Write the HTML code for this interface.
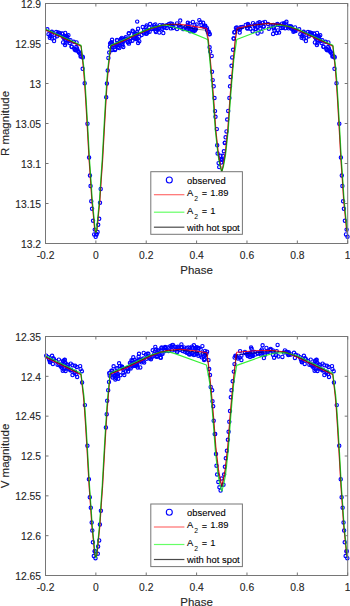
<!DOCTYPE html>
<html><head><meta charset="utf-8"><title>Light curves</title>
<style>html,body{margin:0;padding:0;background:#fff;width:350px;height:606px;overflow:hidden}
svg{display:block}text{font-family:"Liberation Sans",sans-serif}</style></head>
<body>
<svg width="350" height="606" viewBox="0 0 350 606" font-family="Liberation Sans, sans-serif">
<rect width="350" height="606" fill="#fff"/>
<clipPath id="c1"><rect x="45.5" y="3.5" width="302.2" height="240.0"/></clipPath>
<g fill="none" stroke="#0000ff" stroke-width="1.15">
<circle cx="137.20" cy="21.60" r="1.65"/>
<circle cx="142.70" cy="27.00" r="1.65"/>
<circle cx="138.10" cy="28.70" r="1.65"/>
<circle cx="133.00" cy="31.60" r="1.65"/>
<circle cx="129.00" cy="33.30" r="1.65"/>
<circle cx="135.90" cy="35.00" r="1.65"/>
<circle cx="139.30" cy="36.70" r="1.65"/>
<circle cx="141.60" cy="35.00" r="1.65"/>
<circle cx="143.90" cy="33.30" r="1.65"/>
<circle cx="125.60" cy="39.00" r="1.65"/>
<circle cx="121.00" cy="39.60" r="1.65"/>
<circle cx="117.00" cy="40.10" r="1.65"/>
<circle cx="111.90" cy="42.40" r="1.65"/>
<circle cx="110.10" cy="43.60" r="1.65"/>
<circle cx="112.40" cy="45.30" r="1.65"/>
<circle cx="116.40" cy="45.30" r="1.65"/>
<circle cx="122.10" cy="44.10" r="1.65"/>
<circle cx="127.90" cy="42.40" r="1.65"/>
<circle cx="132.40" cy="40.70" r="1.65"/>
<circle cx="135.90" cy="39.00" r="1.65"/>
<circle cx="138.10" cy="43.00" r="1.65"/>
<circle cx="139.30" cy="41.30" r="1.65"/>
<circle cx="115.30" cy="49.30" r="1.65"/>
<circle cx="111.90" cy="49.90" r="1.65"/>
<circle cx="123.30" cy="47.00" r="1.65"/>
<circle cx="119.30" cy="48.10" r="1.65"/>
<circle cx="130.10" cy="41.30" r="1.65"/>
<circle cx="134.10" cy="37.90" r="1.65"/>
<circle cx="112.00" cy="49.90" r="1.65"/>
<circle cx="115.00" cy="49.90" r="1.65"/>
<circle cx="114.10" cy="45.10" r="1.65"/>
<circle cx="117.10" cy="40.40" r="1.65"/>
<circle cx="118.00" cy="47.30" r="1.65"/>
<circle cx="121.00" cy="39.10" r="1.65"/>
<circle cx="122.30" cy="45.60" r="1.65"/>
<circle cx="124.90" cy="38.70" r="1.65"/>
<circle cx="128.30" cy="42.10" r="1.65"/>
<circle cx="128.70" cy="33.60" r="1.65"/>
<circle cx="111.10" cy="42.60" r="1.65"/>
<circle cx="150.10" cy="24.00" r="1.65"/>
<circle cx="154.10" cy="25.10" r="1.65"/>
<circle cx="146.10" cy="26.90" r="1.65"/>
<circle cx="147.30" cy="32.60" r="1.65"/>
<circle cx="146.10" cy="33.70" r="1.65"/>
<circle cx="156.40" cy="29.10" r="1.65"/>
<circle cx="158.70" cy="28.00" r="1.65"/>
<circle cx="159.90" cy="25.10" r="1.65"/>
<circle cx="155.90" cy="32.00" r="1.65"/>
<circle cx="159.30" cy="32.60" r="1.65"/>
<circle cx="163.30" cy="33.10" r="1.65"/>
<circle cx="162.10" cy="29.10" r="1.65"/>
<circle cx="166.70" cy="28.00" r="1.65"/>
<circle cx="169.00" cy="24.00" r="1.65"/>
<circle cx="170.70" cy="23.40" r="1.65"/>
<circle cx="173.00" cy="28.00" r="1.65"/>
<circle cx="177.00" cy="23.40" r="1.65"/>
<circle cx="179.30" cy="25.10" r="1.65"/>
<circle cx="177.00" cy="29.10" r="1.65"/>
<circle cx="181.60" cy="27.40" r="1.65"/>
<circle cx="183.90" cy="28.60" r="1.65"/>
<circle cx="151.90" cy="29.10" r="1.65"/>
<circle cx="192.90" cy="21.90" r="1.65"/>
<circle cx="199.30" cy="20.10" r="1.65"/>
<circle cx="200.60" cy="22.30" r="1.65"/>
<circle cx="203.10" cy="22.70" r="1.65"/>
<circle cx="201.40" cy="24.90" r="1.65"/>
<circle cx="196.70" cy="24.40" r="1.65"/>
<circle cx="194.60" cy="24.90" r="1.65"/>
<circle cx="189.90" cy="23.60" r="1.65"/>
<circle cx="187.70" cy="24.90" r="1.65"/>
<circle cx="185.60" cy="27.00" r="1.65"/>
<circle cx="191.60" cy="30.40" r="1.65"/>
<circle cx="195.90" cy="29.10" r="1.65"/>
<circle cx="205.30" cy="25.70" r="1.65"/>
<circle cx="207.00" cy="28.30" r="1.65"/>
<circle cx="208.70" cy="31.70" r="1.65"/>
<circle cx="209.60" cy="33.90" r="1.65"/>
<circle cx="186.90" cy="28.70" r="1.65"/>
<circle cx="189.00" cy="27.40" r="1.65"/>
<circle cx="193.30" cy="28.30" r="1.65"/>
<circle cx="203.60" cy="26.60" r="1.65"/>
<circle cx="233.70" cy="38.60" r="1.65"/>
<circle cx="234.60" cy="32.10" r="1.65"/>
<circle cx="235.90" cy="27.90" r="1.65"/>
<circle cx="238.00" cy="28.70" r="1.65"/>
<circle cx="239.70" cy="32.60" r="1.65"/>
<circle cx="240.10" cy="28.70" r="1.65"/>
<circle cx="245.70" cy="24.90" r="1.65"/>
<circle cx="247.90" cy="24.00" r="1.65"/>
<circle cx="249.10" cy="26.10" r="1.65"/>
<circle cx="253.00" cy="23.10" r="1.65"/>
<circle cx="254.70" cy="24.90" r="1.65"/>
<circle cx="252.60" cy="31.30" r="1.65"/>
<circle cx="250.40" cy="28.70" r="1.65"/>
<circle cx="255.60" cy="29.10" r="1.65"/>
<circle cx="257.70" cy="33.40" r="1.65"/>
<circle cx="257.70" cy="23.10" r="1.65"/>
<circle cx="259.40" cy="22.30" r="1.65"/>
<circle cx="260.70" cy="24.90" r="1.65"/>
<circle cx="260.30" cy="28.70" r="1.65"/>
<circle cx="242.30" cy="27.00" r="1.65"/>
<circle cx="247.00" cy="27.90" r="1.65"/>
<circle cx="265.00" cy="21.90" r="1.65"/>
<circle cx="262.90" cy="22.70" r="1.65"/>
<circle cx="263.70" cy="26.60" r="1.65"/>
<circle cx="268.90" cy="28.70" r="1.65"/>
<circle cx="268.00" cy="24.00" r="1.65"/>
<circle cx="271.40" cy="26.10" r="1.65"/>
<circle cx="274.40" cy="30.40" r="1.65"/>
<circle cx="277.90" cy="30.40" r="1.65"/>
<circle cx="273.10" cy="33.90" r="1.65"/>
<circle cx="276.60" cy="33.00" r="1.65"/>
<circle cx="279.10" cy="32.60" r="1.65"/>
<circle cx="277.40" cy="24.00" r="1.65"/>
<circle cx="282.10" cy="23.60" r="1.65"/>
<circle cx="284.30" cy="24.00" r="1.65"/>
<circle cx="285.10" cy="28.30" r="1.65"/>
<circle cx="287.70" cy="26.60" r="1.65"/>
<circle cx="289.40" cy="26.10" r="1.65"/>
<circle cx="291.10" cy="28.30" r="1.65"/>
<circle cx="281.30" cy="27.90" r="1.65"/>
<circle cx="274.00" cy="28.30" r="1.65"/>
<circle cx="290.90" cy="26.60" r="1.65"/>
<circle cx="292.10" cy="29.10" r="1.65"/>
<circle cx="293.40" cy="31.70" r="1.65"/>
<circle cx="295.10" cy="27.40" r="1.65"/>
<circle cx="295.60" cy="30.90" r="1.65"/>
<circle cx="302.00" cy="36.00" r="1.65"/>
<circle cx="301.60" cy="37.70" r="1.65"/>
<circle cx="303.70" cy="34.30" r="1.65"/>
<circle cx="306.30" cy="37.70" r="1.65"/>
<circle cx="305.90" cy="41.10" r="1.65"/>
<circle cx="308.00" cy="32.10" r="1.65"/>
<circle cx="310.10" cy="32.60" r="1.65"/>
<circle cx="308.90" cy="34.30" r="1.65"/>
<circle cx="311.90" cy="34.70" r="1.65"/>
<circle cx="314.00" cy="33.40" r="1.65"/>
<circle cx="314.90" cy="42.40" r="1.65"/>
<circle cx="316.60" cy="36.00" r="1.65"/>
<circle cx="317.80" cy="38.10" r="1.65"/>
<circle cx="318.70" cy="36.00" r="1.65"/>
<circle cx="317.40" cy="43.30" r="1.65"/>
<circle cx="300.30" cy="34.30" r="1.65"/>
<circle cx="316.90" cy="36.60" r="1.65"/>
<circle cx="319.00" cy="37.00" r="1.65"/>
<circle cx="317.70" cy="40.40" r="1.65"/>
<circle cx="316.90" cy="45.10" r="1.65"/>
<circle cx="320.70" cy="40.90" r="1.65"/>
<circle cx="323.70" cy="46.90" r="1.65"/>
<circle cx="326.30" cy="49.00" r="1.65"/>
<circle cx="327.60" cy="50.30" r="1.65"/>
<circle cx="328.90" cy="48.60" r="1.65"/>
<circle cx="330.60" cy="52.00" r="1.65"/>
<circle cx="331.90" cy="53.70" r="1.65"/>
<circle cx="333.10" cy="56.30" r="1.65"/>
<circle cx="334.40" cy="56.70" r="1.65"/>
<circle cx="329.70" cy="50.70" r="1.65"/>
<circle cx="132.52" cy="30.76" r="1.65"/>
<circle cx="137.10" cy="32.04" r="1.65"/>
<circle cx="124.99" cy="39.74" r="1.65"/>
<circle cx="117.03" cy="44.23" r="1.65"/>
<circle cx="130.49" cy="38.31" r="1.65"/>
<circle cx="137.34" cy="38.63" r="1.65"/>
<circle cx="134.66" cy="38.30" r="1.65"/>
<circle cx="121.84" cy="37.92" r="1.65"/>
<circle cx="128.94" cy="43.63" r="1.65"/>
<circle cx="112.06" cy="39.77" r="1.65"/>
<circle cx="155.35" cy="24.40" r="1.65"/>
<circle cx="146.65" cy="25.50" r="1.65"/>
<circle cx="155.57" cy="30.84" r="1.65"/>
<circle cx="158.42" cy="29.01" r="1.65"/>
<circle cx="161.95" cy="27.49" r="1.65"/>
<circle cx="169.91" cy="26.08" r="1.65"/>
<circle cx="170.91" cy="28.39" r="1.65"/>
<circle cx="180.24" cy="20.56" r="1.65"/>
<circle cx="187.84" cy="22.82" r="1.65"/>
<circle cx="183.30" cy="29.14" r="1.65"/>
<circle cx="194.97" cy="30.50" r="1.65"/>
<circle cx="193.58" cy="31.22" r="1.65"/>
<circle cx="193.61" cy="30.05" r="1.65"/>
<circle cx="205.07" cy="25.93" r="1.65"/>
<circle cx="249.20" cy="25.63" r="1.65"/>
<circle cx="247.98" cy="24.93" r="1.65"/>
<circle cx="255.06" cy="26.02" r="1.65"/>
<circle cx="259.67" cy="23.74" r="1.65"/>
<circle cx="261.51" cy="31.63" r="1.65"/>
<circle cx="247.62" cy="28.63" r="1.65"/>
<circle cx="273.22" cy="24.90" r="1.65"/>
<circle cx="284.04" cy="23.21" r="1.65"/>
<circle cx="289.42" cy="27.03" r="1.65"/>
<circle cx="293.87" cy="30.78" r="1.65"/>
<circle cx="303.71" cy="31.81" r="1.65"/>
<circle cx="303.86" cy="38.47" r="1.65"/>
<circle cx="311.70" cy="33.35" r="1.65"/>
<circle cx="314.26" cy="33.94" r="1.65"/>
<circle cx="315.09" cy="37.27" r="1.65"/>
<circle cx="316.05" cy="38.68" r="1.65"/>
<circle cx="320.24" cy="35.17" r="1.65"/>
<circle cx="317.04" cy="32.89" r="1.65"/>
<circle cx="334.64" cy="57.41" r="1.65"/>
<circle cx="153.40" cy="27.16" r="1.65"/>
<circle cx="144.11" cy="30.05" r="1.65"/>
<circle cx="149.62" cy="31.68" r="1.65"/>
<circle cx="116.72" cy="45.26" r="1.65"/>
<circle cx="145.43" cy="31.33" r="1.65"/>
<circle cx="163.98" cy="26.71" r="1.65"/>
<circle cx="134.44" cy="35.05" r="1.65"/>
<circle cx="117.96" cy="44.23" r="1.65"/>
<circle cx="162.79" cy="25.15" r="1.65"/>
<circle cx="147.83" cy="30.95" r="1.65"/>
<circle cx="122.45" cy="43.66" r="1.65"/>
<circle cx="147.62" cy="30.09" r="1.65"/>
<circle cx="164.62" cy="27.41" r="1.65"/>
<circle cx="123.10" cy="39.75" r="1.65"/>
<circle cx="157.25" cy="27.08" r="1.65"/>
<circle cx="149.04" cy="27.65" r="1.65"/>
<circle cx="123.75" cy="41.15" r="1.65"/>
<circle cx="121.79" cy="42.31" r="1.65"/>
<circle cx="162.57" cy="25.93" r="1.65"/>
<circle cx="130.04" cy="37.90" r="1.65"/>
<circle cx="135.39" cy="38.25" r="1.65"/>
<circle cx="146.77" cy="33.62" r="1.65"/>
<circle cx="135.34" cy="33.67" r="1.65"/>
<circle cx="112.01" cy="48.45" r="1.65"/>
<circle cx="125.79" cy="37.32" r="1.65"/>
<circle cx="137.03" cy="33.83" r="1.65"/>
<circle cx="152.35" cy="28.71" r="1.65"/>
<circle cx="144.14" cy="32.36" r="1.65"/>
<circle cx="134.80" cy="34.21" r="1.65"/>
<circle cx="122.12" cy="40.73" r="1.65"/>
<circle cx="153.59" cy="28.80" r="1.65"/>
<circle cx="187.59" cy="29.35" r="1.65"/>
<circle cx="191.49" cy="29.00" r="1.65"/>
<circle cx="166.77" cy="25.33" r="1.65"/>
<circle cx="171.99" cy="25.79" r="1.65"/>
<circle cx="180.23" cy="27.02" r="1.65"/>
<circle cx="190.11" cy="31.37" r="1.65"/>
<circle cx="195.06" cy="29.51" r="1.65"/>
<circle cx="187.99" cy="27.57" r="1.65"/>
<circle cx="176.18" cy="26.03" r="1.65"/>
<circle cx="172.18" cy="23.90" r="1.65"/>
<circle cx="257.37" cy="27.53" r="1.65"/>
<circle cx="286.15" cy="23.63" r="1.65"/>
<circle cx="278.24" cy="24.67" r="1.65"/>
<circle cx="275.50" cy="24.91" r="1.65"/>
<circle cx="273.23" cy="27.55" r="1.65"/>
<circle cx="291.04" cy="26.41" r="1.65"/>
<circle cx="286.43" cy="21.82" r="1.65"/>
<circle cx="240.68" cy="27.15" r="1.65"/>
<circle cx="295.13" cy="30.23" r="1.65"/>
<circle cx="263.58" cy="26.53" r="1.65"/>
<circle cx="255.84" cy="29.03" r="1.65"/>
<circle cx="288.56" cy="28.36" r="1.65"/>
<circle cx="291.38" cy="27.03" r="1.65"/>
<circle cx="283.05" cy="27.85" r="1.65"/>
<circle cx="280.03" cy="25.49" r="1.65"/>
<circle cx="239.59" cy="29.57" r="1.65"/>
<circle cx="254.76" cy="26.09" r="1.65"/>
<circle cx="316.56" cy="36.60" r="1.65"/>
<circle cx="316.51" cy="38.03" r="1.65"/>
<circle cx="299.20" cy="29.22" r="1.65"/>
<circle cx="322.30" cy="40.17" r="1.65"/>
<circle cx="318.05" cy="40.13" r="1.65"/>
<circle cx="328.37" cy="42.41" r="1.65"/>
<circle cx="303.42" cy="32.50" r="1.65"/>
<circle cx="311.20" cy="33.18" r="1.65"/>
<circle cx="325.58" cy="41.70" r="1.65"/>
<circle cx="328.18" cy="47.06" r="1.65"/>
<circle cx="319.71" cy="39.78" r="1.65"/>
<circle cx="308.84" cy="36.37" r="1.65"/>
<circle cx="321.63" cy="42.91" r="1.65"/>
<circle cx="97.60" cy="232.00" r="1.65"/>
<circle cx="96.60" cy="234.50" r="1.65"/>
<circle cx="96.30" cy="234.00" r="1.65"/>
<circle cx="98.20" cy="224.70" r="1.65"/>
<circle cx="99.20" cy="218.80" r="1.65"/>
<circle cx="100.00" cy="202.70" r="1.65"/>
<circle cx="100.70" cy="188.90" r="1.65"/>
<circle cx="106.20" cy="97.30" r="1.65"/>
<circle cx="106.90" cy="83.50" r="1.65"/>
<circle cx="107.70" cy="70.50" r="1.65"/>
<circle cx="108.40" cy="57.90" r="1.65"/>
<circle cx="109.20" cy="52.60" r="1.65"/>
<circle cx="109.90" cy="46.70" r="1.65"/>
<circle cx="111.40" cy="43.00" r="1.65"/>
<circle cx="323.30" cy="46.60" r="1.65"/>
<circle cx="326.90" cy="49.90" r="1.65"/>
<circle cx="330.70" cy="52.40" r="1.65"/>
<circle cx="332.40" cy="56.50" r="1.65"/>
<circle cx="334.50" cy="68.80" r="1.65"/>
<circle cx="336.50" cy="83.30" r="1.65"/>
<circle cx="339.30" cy="123.70" r="1.65"/>
<circle cx="340.90" cy="157.50" r="1.65"/>
<circle cx="341.80" cy="175.50" r="1.65"/>
<circle cx="342.40" cy="186.00" r="1.65"/>
<circle cx="343.10" cy="201.20" r="1.65"/>
<circle cx="343.90" cy="208.70" r="1.65"/>
<circle cx="344.90" cy="220.70" r="1.65"/>
<circle cx="346.60" cy="229.60" r="1.65"/>
<circle cx="346.00" cy="234.40" r="1.65"/>
<circle cx="347.50" cy="236.80" r="1.65"/>
<circle cx="205.20" cy="26.90" r="1.65"/>
<circle cx="207.10" cy="30.00" r="1.65"/>
<circle cx="208.30" cy="32.40" r="1.65"/>
<circle cx="209.60" cy="34.30" r="1.65"/>
<circle cx="209.60" cy="47.30" r="1.65"/>
<circle cx="210.20" cy="51.60" r="1.65"/>
<circle cx="211.70" cy="55.90" r="1.65"/>
<circle cx="212.00" cy="71.80" r="1.65"/>
<circle cx="212.70" cy="80.10" r="1.65"/>
<circle cx="213.70" cy="86.30" r="1.65"/>
<circle cx="214.50" cy="98.00" r="1.65"/>
<circle cx="215.00" cy="111.10" r="1.65"/>
<circle cx="215.50" cy="116.80" r="1.65"/>
<circle cx="216.80" cy="129.10" r="1.65"/>
<circle cx="217.20" cy="145.30" r="1.65"/>
<circle cx="217.60" cy="153.50" r="1.65"/>
<circle cx="218.60" cy="163.10" r="1.65"/>
<circle cx="219.20" cy="167.10" r="1.65"/>
<circle cx="236.80" cy="27.50" r="1.65"/>
<circle cx="234.30" cy="32.40" r="1.65"/>
<circle cx="233.70" cy="38.60" r="1.65"/>
<circle cx="233.10" cy="49.80" r="1.65"/>
<circle cx="232.20" cy="57.40" r="1.65"/>
<circle cx="231.50" cy="65.80" r="1.65"/>
<circle cx="230.60" cy="77.00" r="1.65"/>
<circle cx="230.00" cy="86.30" r="1.65"/>
<circle cx="229.40" cy="98.00" r="1.65"/>
<circle cx="228.20" cy="110.90" r="1.65"/>
<circle cx="227.20" cy="119.50" r="1.65"/>
<circle cx="226.50" cy="131.40" r="1.65"/>
<circle cx="225.60" cy="137.30" r="1.65"/>
<circle cx="224.90" cy="142.60" r="1.65"/>
<circle cx="223.90" cy="151.20" r="1.65"/>
<circle cx="222.90" cy="155.80" r="1.65"/>
<circle cx="221.90" cy="159.80" r="1.65"/>
<circle cx="220.60" cy="155.80" r="1.65"/>
<circle cx="221.20" cy="162.50" r="1.65"/>
<circle cx="222.40" cy="159.60" r="1.65"/>
<circle cx="220.80" cy="159.20" r="1.65"/>
<circle cx="224.80" cy="143.00" r="1.65"/>
<circle cx="50.17" cy="36.00" r="1.65"/>
<circle cx="49.77" cy="37.70" r="1.65"/>
<circle cx="51.87" cy="34.30" r="1.65"/>
<circle cx="54.47" cy="37.70" r="1.65"/>
<circle cx="54.07" cy="41.10" r="1.65"/>
<circle cx="56.17" cy="32.10" r="1.65"/>
<circle cx="58.27" cy="32.60" r="1.65"/>
<circle cx="57.07" cy="34.30" r="1.65"/>
<circle cx="60.07" cy="34.70" r="1.65"/>
<circle cx="62.17" cy="33.40" r="1.65"/>
<circle cx="63.07" cy="42.40" r="1.65"/>
<circle cx="64.77" cy="36.00" r="1.65"/>
<circle cx="65.97" cy="38.10" r="1.65"/>
<circle cx="66.87" cy="36.00" r="1.65"/>
<circle cx="65.57" cy="43.30" r="1.65"/>
<circle cx="48.47" cy="34.30" r="1.65"/>
<circle cx="65.07" cy="36.60" r="1.65"/>
<circle cx="67.17" cy="37.00" r="1.65"/>
<circle cx="65.87" cy="40.40" r="1.65"/>
<circle cx="65.07" cy="45.10" r="1.65"/>
<circle cx="68.87" cy="40.90" r="1.65"/>
<circle cx="71.87" cy="46.90" r="1.65"/>
<circle cx="74.47" cy="49.00" r="1.65"/>
<circle cx="75.77" cy="50.30" r="1.65"/>
<circle cx="77.07" cy="48.60" r="1.65"/>
<circle cx="78.77" cy="52.00" r="1.65"/>
<circle cx="80.07" cy="53.70" r="1.65"/>
<circle cx="81.27" cy="56.30" r="1.65"/>
<circle cx="82.57" cy="56.70" r="1.65"/>
<circle cx="77.87" cy="50.70" r="1.65"/>
<circle cx="51.88" cy="31.81" r="1.65"/>
<circle cx="52.03" cy="38.47" r="1.65"/>
<circle cx="59.86" cy="33.35" r="1.65"/>
<circle cx="62.42" cy="33.94" r="1.65"/>
<circle cx="63.26" cy="37.27" r="1.65"/>
<circle cx="64.22" cy="38.68" r="1.65"/>
<circle cx="68.41" cy="35.17" r="1.65"/>
<circle cx="65.21" cy="32.89" r="1.65"/>
<circle cx="82.81" cy="57.41" r="1.65"/>
<circle cx="64.72" cy="36.60" r="1.65"/>
<circle cx="64.68" cy="38.03" r="1.65"/>
<circle cx="47.37" cy="29.22" r="1.65"/>
<circle cx="70.47" cy="40.17" r="1.65"/>
<circle cx="66.22" cy="40.13" r="1.65"/>
<circle cx="76.54" cy="42.41" r="1.65"/>
<circle cx="51.59" cy="32.50" r="1.65"/>
<circle cx="59.36" cy="33.18" r="1.65"/>
<circle cx="73.75" cy="41.70" r="1.65"/>
<circle cx="76.34" cy="47.06" r="1.65"/>
<circle cx="67.87" cy="39.78" r="1.65"/>
<circle cx="57.00" cy="36.37" r="1.65"/>
<circle cx="69.79" cy="42.91" r="1.65"/>
<circle cx="71.47" cy="46.60" r="1.65"/>
<circle cx="75.07" cy="49.90" r="1.65"/>
<circle cx="78.87" cy="52.40" r="1.65"/>
<circle cx="80.57" cy="56.50" r="1.65"/>
<circle cx="82.67" cy="68.80" r="1.65"/>
<circle cx="84.67" cy="83.30" r="1.65"/>
<circle cx="87.47" cy="123.70" r="1.65"/>
<circle cx="89.07" cy="157.50" r="1.65"/>
<circle cx="89.97" cy="175.50" r="1.65"/>
<circle cx="90.57" cy="186.00" r="1.65"/>
<circle cx="91.27" cy="201.20" r="1.65"/>
<circle cx="92.07" cy="208.70" r="1.65"/>
<circle cx="93.07" cy="220.70" r="1.65"/>
<circle cx="94.77" cy="229.60" r="1.65"/>
<circle cx="94.17" cy="234.40" r="1.65"/>
<circle cx="95.67" cy="236.80" r="1.65"/>
</g>
<g clip-path="url(#c1)">
<polyline points="45.47,30.00 81.07,46.30 83.37,68.26 84.37,80.25 85.67,100.21 87.07,124.17 89.07,160.12 90.47,180.08 91.77,200.05 93.27,215.03 94.67,230.00 95.87,232.50 95.87,232.50 97.07,230.00 98.47,215.03 99.97,200.05 101.27,180.08 102.67,160.12 104.67,124.17 106.07,100.21 107.37,80.25 108.37,68.26 110.70,46.30 125.00,40.20 135.00,35.40 150.00,29.00 160.00,25.90 166.00,24.60 173.00,24.20 180.00,24.30 188.00,25.30 195.00,26.60 206.50,28.50 208.38,40.00 210.38,60.00 212.18,80.00 213.78,100.00 215.88,130.00 218.58,155.00 220.58,166.00 221.78,172.00 222.98,165.99 224.98,154.98 227.68,129.94 229.78,99.90 231.38,79.87 233.18,59.84 235.18,39.82 237.20,28.30 250.00,25.50 268.00,23.40 280.00,24.40 290.00,27.00 297.30,30.00 332.90,46.30 335.20,68.26 336.20,80.25 337.50,100.21 338.90,124.17 340.90,160.12 342.30,180.08 343.60,200.05 345.10,215.03 346.50,230.00 347.70,232.50 347.70,232.50" fill="none" stroke="#ff0000" stroke-opacity="0.85" stroke-width="1.1" stroke-linejoin="round"/>
<polyline points="45.47,29.00 81.07,45.20 83.87,67.29 84.87,79.35 86.17,99.43 87.57,123.53 89.57,159.69 90.97,179.77 92.27,199.86 93.77,214.92 95.17,229.99 95.87,232.50 95.87,232.50 96.57,229.99 97.97,214.94 99.47,199.90 100.77,179.83 102.17,159.77 104.17,123.65 105.57,99.57 106.87,79.51 107.87,67.47 110.70,45.40 125.00,39.30 135.00,34.60 150.00,28.40 160.00,25.60 166.00,25.00 175.00,27.50 190.00,32.10 206.50,39.00 207.78,40.00 209.78,60.00 211.58,80.00 213.18,100.00 215.28,130.00 217.98,155.00 219.98,166.00 221.78,172.00 223.58,165.99 225.58,154.98 228.28,129.94 230.38,99.90 231.98,79.87 233.78,59.84 236.70,39.50 255.00,32.50 274.70,26.30 280.00,25.00 290.00,26.60 297.30,29.00 332.90,45.20 335.70,67.29 336.70,79.35 338.00,99.43 339.40,123.53 341.40,159.69 342.80,179.77 344.10,199.86 345.60,214.92 347.00,229.99 347.70,232.50 347.70,232.50" fill="none" stroke="#22ee22" stroke-opacity="0.9" stroke-width="1.15" stroke-linejoin="round"/>
<polyline points="45.47,29.50 81.07,45.80 83.57,67.82 84.57,79.84 85.87,99.86 87.27,123.88 89.27,159.92 90.67,179.94 91.97,199.97 93.47,214.98 94.87,230.00 95.87,232.50 95.87,232.50 96.87,230.00 98.27,214.99 99.77,199.98 101.07,179.97 102.47,159.96 104.47,123.94 105.87,99.93 107.17,79.92 108.17,67.91 110.70,45.90 125.00,39.80 135.00,35.00 150.00,28.70 160.00,25.80 166.00,24.60 173.00,24.40 180.00,25.00 188.00,27.30 195.00,29.00 205.50,30.20 208.08,40.00 210.08,60.00 211.88,80.00 213.48,100.00 215.58,130.00 218.28,155.00 220.28,166.00 221.78,172.00 223.28,165.99 225.28,154.98 227.98,129.94 230.08,99.90 231.68,79.87 233.48,59.84 235.48,39.82 236.70,29.70 245.00,27.50 255.00,25.00 268.00,23.60 280.00,24.50 290.00,27.00 297.30,29.50 332.90,45.80 335.40,67.82 336.40,79.84 337.70,99.86 339.10,123.88 341.10,159.92 342.50,179.94 343.80,199.97 345.30,214.98 346.70,230.00 347.70,232.50 347.70,232.50" fill="none" stroke="#000000" stroke-opacity="0.6" stroke-width="0.75" stroke-linejoin="round"/>
</g>
<rect x="45.5" y="3.5" width="302.2" height="240.0" fill="none" stroke="#767676" stroke-width="1"/>
<path d="M45.50 243.5v-3M45.50 3.5v3M45.5 3.50h3M347.7 3.50h-3M95.87 243.5v-3M95.87 3.5v3M45.5 43.50h3M347.7 43.50h-3M146.23 243.5v-3M146.23 3.5v3M45.5 83.50h3M347.7 83.50h-3M196.60 243.5v-3M196.60 3.5v3M45.5 123.50h3M347.7 123.50h-3M246.97 243.5v-3M246.97 3.5v3M45.5 163.50h3M347.7 163.50h-3M297.33 243.5v-3M297.33 3.5v3M45.5 203.50h3M347.7 203.50h-3M347.70 243.5v-3M347.70 3.5v3M45.5 243.50h3M347.7 243.50h-3" stroke="#767676" stroke-width="1" fill="none"/>
<text x="45.50" y="258.70" text-anchor="middle" font-size="10.3" fill="#262626" stroke="#262626" stroke-width="0.12">-0.2</text>
<text x="95.87" y="258.70" text-anchor="middle" font-size="10.3" fill="#262626" stroke="#262626" stroke-width="0.12">0</text>
<text x="146.23" y="258.70" text-anchor="middle" font-size="10.3" fill="#262626" stroke="#262626" stroke-width="0.12">0.2</text>
<text x="196.60" y="258.70" text-anchor="middle" font-size="10.3" fill="#262626" stroke="#262626" stroke-width="0.12">0.4</text>
<text x="246.97" y="258.70" text-anchor="middle" font-size="10.3" fill="#262626" stroke="#262626" stroke-width="0.12">0.6</text>
<text x="297.33" y="258.70" text-anchor="middle" font-size="10.3" fill="#262626" stroke="#262626" stroke-width="0.12">0.8</text>
<text x="347.70" y="258.70" text-anchor="middle" font-size="10.3" fill="#262626" stroke="#262626" stroke-width="0.12">1</text>
<text x="41" y="7.70" text-anchor="end" font-size="10.3" fill="#262626" stroke="#262626" stroke-width="0.12">12.9</text>
<text x="41" y="47.70" text-anchor="end" font-size="10.3" fill="#262626" stroke="#262626" stroke-width="0.12">12.95</text>
<text x="41" y="87.70" text-anchor="end" font-size="10.3" fill="#262626" stroke="#262626" stroke-width="0.12">13</text>
<text x="41" y="127.70" text-anchor="end" font-size="10.3" fill="#262626" stroke="#262626" stroke-width="0.12">13.05</text>
<text x="41" y="167.70" text-anchor="end" font-size="10.3" fill="#262626" stroke="#262626" stroke-width="0.12">13.1</text>
<text x="41" y="207.70" text-anchor="end" font-size="10.3" fill="#262626" stroke="#262626" stroke-width="0.12">13.15</text>
<text x="41" y="247.70" text-anchor="end" font-size="10.3" fill="#262626" stroke="#262626" stroke-width="0.12">13.2</text>
<text x="196.60" y="273.50" text-anchor="middle" font-size="11.5" fill="#262626" stroke="#262626" stroke-width="0.12">Phase</text>
<text transform="translate(8.8 123.50) rotate(-90)" text-anchor="middle" font-size="11.5" fill="#262626" stroke="#262626" stroke-width="0.12">R magnitude</text>
<rect x="150.8" y="171.7" width="91.6" height="62.6" fill="#fff" stroke="#767676" stroke-width="1"/>
<circle cx="169.3" cy="180.00" r="3" fill="none" stroke="#0000ff" stroke-width="1.1"/>
<text x="187.1" y="184.00" font-size="9.4" fill="#000" stroke="#000" stroke-width="0.1">observed</text>
<line x1="153.9" x2="184.4" y1="194.70" y2="194.70" stroke="#ff6e6e" stroke-width="1.2"/>
<text x="187.1" y="195.90" font-size="9.4" fill="#000" stroke="#000" stroke-width="0.1">A</text>
<text x="194.2" y="200.70" font-size="6.8" fill="#000">2</text>
<text x="201.9" y="196.20" font-size="8.4" fill="#000" stroke="#000" stroke-width="0.25">=</text>
<text x="210.2" y="195.90" font-size="9.4" fill="#000" stroke="#000" stroke-width="0.1">1.89</text>
<line x1="153.9" x2="184.4" y1="212.20" y2="212.20" stroke="#66ff66" stroke-width="1.2"/>
<text x="187.1" y="213.80" font-size="9.4" fill="#000" stroke="#000" stroke-width="0.1">A</text>
<text x="194.2" y="218.60" font-size="6.8" fill="#000">2</text>
<text x="201.9" y="214.10" font-size="8.4" fill="#000" stroke="#000" stroke-width="0.25">=</text>
<text x="210.2" y="213.80" font-size="9.4" fill="#000" stroke="#000" stroke-width="0.1">1</text>
<line x1="153.9" x2="184.4" y1="227.20" y2="227.20" stroke="#4a4a4a" stroke-width="1.2"/>
<text x="187.1" y="230.60" font-size="9.4" fill="#000" stroke="#000" stroke-width="0.1">with hot spot</text>
<clipPath id="c2"><rect x="45.5" y="336.5" width="302.2" height="239.0"/></clipPath>
<g fill="none" stroke="#0000ff" stroke-width="1.15">
<circle cx="109.30" cy="373.10" r="1.65"/>
<circle cx="109.70" cy="375.70" r="1.65"/>
<circle cx="111.40" cy="370.60" r="1.65"/>
<circle cx="113.60" cy="366.30" r="1.65"/>
<circle cx="112.70" cy="377.40" r="1.65"/>
<circle cx="114.40" cy="376.60" r="1.65"/>
<circle cx="116.10" cy="377.90" r="1.65"/>
<circle cx="116.60" cy="368.40" r="1.65"/>
<circle cx="119.10" cy="363.30" r="1.65"/>
<circle cx="120.00" cy="365.90" r="1.65"/>
<circle cx="117.90" cy="375.70" r="1.65"/>
<circle cx="120.40" cy="375.30" r="1.65"/>
<circle cx="122.10" cy="366.70" r="1.65"/>
<circle cx="123.40" cy="372.70" r="1.65"/>
<circle cx="124.30" cy="374.90" r="1.65"/>
<circle cx="125.60" cy="371.40" r="1.65"/>
<circle cx="126.90" cy="368.00" r="1.65"/>
<circle cx="128.10" cy="371.40" r="1.65"/>
<circle cx="130.70" cy="368.40" r="1.65"/>
<circle cx="129.90" cy="362.90" r="1.65"/>
<circle cx="132.40" cy="360.70" r="1.65"/>
<circle cx="133.30" cy="357.30" r="1.65"/>
<circle cx="134.10" cy="365.00" r="1.65"/>
<circle cx="132.40" cy="366.30" r="1.65"/>
<circle cx="118.30" cy="378.70" r="1.65"/>
<circle cx="112.30" cy="371.00" r="1.65"/>
<circle cx="115.30" cy="379.50" r="1.65"/>
<circle cx="134.70" cy="359.70" r="1.65"/>
<circle cx="133.90" cy="364.00" r="1.65"/>
<circle cx="135.60" cy="365.70" r="1.65"/>
<circle cx="137.70" cy="367.40" r="1.65"/>
<circle cx="140.30" cy="367.40" r="1.65"/>
<circle cx="139.00" cy="353.70" r="1.65"/>
<circle cx="138.60" cy="356.70" r="1.65"/>
<circle cx="140.70" cy="361.00" r="1.65"/>
<circle cx="143.30" cy="361.40" r="1.65"/>
<circle cx="143.70" cy="352.90" r="1.65"/>
<circle cx="145.90" cy="354.60" r="1.65"/>
<circle cx="148.40" cy="353.70" r="1.65"/>
<circle cx="149.70" cy="358.40" r="1.65"/>
<circle cx="152.30" cy="356.70" r="1.65"/>
<circle cx="151.00" cy="359.30" r="1.65"/>
<circle cx="152.70" cy="350.30" r="1.65"/>
<circle cx="155.30" cy="346.90" r="1.65"/>
<circle cx="156.10" cy="349.40" r="1.65"/>
<circle cx="154.90" cy="351.60" r="1.65"/>
<circle cx="157.90" cy="350.30" r="1.65"/>
<circle cx="161.30" cy="348.10" r="1.65"/>
<circle cx="160.40" cy="357.60" r="1.65"/>
<circle cx="162.60" cy="353.70" r="1.65"/>
<circle cx="158.70" cy="353.70" r="1.65"/>
<circle cx="137.30" cy="361.40" r="1.65"/>
<circle cx="161.70" cy="347.40" r="1.65"/>
<circle cx="163.40" cy="348.30" r="1.65"/>
<circle cx="165.10" cy="347.00" r="1.65"/>
<circle cx="167.70" cy="347.40" r="1.65"/>
<circle cx="170.30" cy="346.10" r="1.65"/>
<circle cx="172.90" cy="344.90" r="1.65"/>
<circle cx="174.60" cy="346.60" r="1.65"/>
<circle cx="176.30" cy="347.40" r="1.65"/>
<circle cx="178.40" cy="348.30" r="1.65"/>
<circle cx="181.40" cy="344.40" r="1.65"/>
<circle cx="181.90" cy="347.40" r="1.65"/>
<circle cx="184.00" cy="347.40" r="1.65"/>
<circle cx="186.60" cy="347.90" r="1.65"/>
<circle cx="188.30" cy="347.40" r="1.65"/>
<circle cx="161.70" cy="353.90" r="1.65"/>
<circle cx="160.90" cy="357.70" r="1.65"/>
<circle cx="177.10" cy="351.70" r="1.65"/>
<circle cx="182.70" cy="350.90" r="1.65"/>
<circle cx="184.90" cy="351.70" r="1.65"/>
<circle cx="187.90" cy="352.10" r="1.65"/>
<circle cx="189.10" cy="354.30" r="1.65"/>
<circle cx="168.60" cy="350.90" r="1.65"/>
<circle cx="172.00" cy="350.40" r="1.65"/>
<circle cx="165.10" cy="350.90" r="1.65"/>
<circle cx="179.70" cy="350.00" r="1.65"/>
<circle cx="190.00" cy="347.90" r="1.65"/>
<circle cx="193.90" cy="345.30" r="1.65"/>
<circle cx="192.10" cy="348.30" r="1.65"/>
<circle cx="195.60" cy="348.70" r="1.65"/>
<circle cx="198.10" cy="348.30" r="1.65"/>
<circle cx="202.40" cy="346.10" r="1.65"/>
<circle cx="200.70" cy="349.60" r="1.65"/>
<circle cx="205.00" cy="350.90" r="1.65"/>
<circle cx="207.10" cy="351.70" r="1.65"/>
<circle cx="189.60" cy="354.30" r="1.65"/>
<circle cx="193.90" cy="355.10" r="1.65"/>
<circle cx="200.70" cy="355.60" r="1.65"/>
<circle cx="203.70" cy="356.40" r="1.65"/>
<circle cx="204.10" cy="359.90" r="1.65"/>
<circle cx="197.30" cy="353.40" r="1.65"/>
<circle cx="206.30" cy="353.90" r="1.65"/>
<circle cx="234.60" cy="357.60" r="1.65"/>
<circle cx="235.90" cy="355.90" r="1.65"/>
<circle cx="238.00" cy="358.40" r="1.65"/>
<circle cx="239.70" cy="357.60" r="1.65"/>
<circle cx="241.40" cy="360.10" r="1.65"/>
<circle cx="240.10" cy="351.10" r="1.65"/>
<circle cx="247.00" cy="353.70" r="1.65"/>
<circle cx="247.90" cy="355.90" r="1.65"/>
<circle cx="250.00" cy="357.10" r="1.65"/>
<circle cx="251.70" cy="349.00" r="1.65"/>
<circle cx="252.60" cy="355.40" r="1.65"/>
<circle cx="255.10" cy="354.60" r="1.65"/>
<circle cx="257.70" cy="353.70" r="1.65"/>
<circle cx="260.30" cy="352.90" r="1.65"/>
<circle cx="249.60" cy="353.70" r="1.65"/>
<circle cx="254.70" cy="352.00" r="1.65"/>
<circle cx="244.90" cy="352.90" r="1.65"/>
<circle cx="277.60" cy="344.90" r="1.65"/>
<circle cx="266.40" cy="347.90" r="1.65"/>
<circle cx="263.90" cy="358.10" r="1.65"/>
<circle cx="261.70" cy="351.70" r="1.65"/>
<circle cx="265.10" cy="354.70" r="1.65"/>
<circle cx="272.90" cy="350.40" r="1.65"/>
<circle cx="272.90" cy="354.70" r="1.65"/>
<circle cx="274.10" cy="357.70" r="1.65"/>
<circle cx="276.30" cy="355.10" r="1.65"/>
<circle cx="278.40" cy="356.40" r="1.65"/>
<circle cx="284.90" cy="350.40" r="1.65"/>
<circle cx="286.60" cy="351.70" r="1.65"/>
<circle cx="288.30" cy="355.10" r="1.65"/>
<circle cx="268.60" cy="351.70" r="1.65"/>
<circle cx="270.30" cy="350.00" r="1.65"/>
<circle cx="288.90" cy="353.10" r="1.65"/>
<circle cx="291.00" cy="354.40" r="1.65"/>
<circle cx="294.00" cy="352.70" r="1.65"/>
<circle cx="294.90" cy="357.90" r="1.65"/>
<circle cx="300.90" cy="359.60" r="1.65"/>
<circle cx="303.90" cy="355.70" r="1.65"/>
<circle cx="305.10" cy="358.30" r="1.65"/>
<circle cx="304.70" cy="363.90" r="1.65"/>
<circle cx="308.10" cy="361.30" r="1.65"/>
<circle cx="310.70" cy="359.60" r="1.65"/>
<circle cx="309.40" cy="364.70" r="1.65"/>
<circle cx="312.90" cy="364.70" r="1.65"/>
<circle cx="313.70" cy="367.70" r="1.65"/>
<circle cx="316.60" cy="359.70" r="1.65"/>
<circle cx="314.90" cy="361.00" r="1.65"/>
<circle cx="317.40" cy="363.10" r="1.65"/>
<circle cx="315.70" cy="367.90" r="1.65"/>
<circle cx="317.40" cy="370.90" r="1.65"/>
<circle cx="320.00" cy="364.90" r="1.65"/>
<circle cx="322.60" cy="363.60" r="1.65"/>
<circle cx="324.30" cy="365.30" r="1.65"/>
<circle cx="322.60" cy="370.40" r="1.65"/>
<circle cx="326.90" cy="365.70" r="1.65"/>
<circle cx="328.60" cy="367.00" r="1.65"/>
<circle cx="332.00" cy="366.10" r="1.65"/>
<circle cx="332.40" cy="369.10" r="1.65"/>
<circle cx="333.70" cy="371.30" r="1.65"/>
<circle cx="328.10" cy="374.30" r="1.65"/>
<circle cx="329.00" cy="376.90" r="1.65"/>
<circle cx="326.90" cy="371.70" r="1.65"/>
<circle cx="319.60" cy="368.30" r="1.65"/>
<circle cx="316.30" cy="360.00" r="1.65"/>
<circle cx="316.70" cy="362.60" r="1.65"/>
<circle cx="315.80" cy="369.40" r="1.65"/>
<circle cx="112.56" cy="373.19" r="1.65"/>
<circle cx="127.88" cy="369.05" r="1.65"/>
<circle cx="131.45" cy="360.25" r="1.65"/>
<circle cx="133.72" cy="365.30" r="1.65"/>
<circle cx="112.07" cy="370.60" r="1.65"/>
<circle cx="136.81" cy="364.65" r="1.65"/>
<circle cx="137.12" cy="365.49" r="1.65"/>
<circle cx="147.47" cy="353.73" r="1.65"/>
<circle cx="159.46" cy="351.24" r="1.65"/>
<circle cx="136.79" cy="361.10" r="1.65"/>
<circle cx="165.47" cy="347.98" r="1.65"/>
<circle cx="165.82" cy="347.78" r="1.65"/>
<circle cx="171.46" cy="347.05" r="1.65"/>
<circle cx="171.80" cy="345.43" r="1.65"/>
<circle cx="181.20" cy="347.03" r="1.65"/>
<circle cx="184.31" cy="349.48" r="1.65"/>
<circle cx="187.38" cy="351.87" r="1.65"/>
<circle cx="190.73" cy="354.26" r="1.65"/>
<circle cx="175.32" cy="349.85" r="1.65"/>
<circle cx="192.01" cy="346.63" r="1.65"/>
<circle cx="196.81" cy="347.31" r="1.65"/>
<circle cx="198.82" cy="348.03" r="1.65"/>
<circle cx="186.94" cy="352.88" r="1.65"/>
<circle cx="201.66" cy="357.33" r="1.65"/>
<circle cx="196.68" cy="353.89" r="1.65"/>
<circle cx="205.21" cy="354.90" r="1.65"/>
<circle cx="235.41" cy="355.73" r="1.65"/>
<circle cx="248.55" cy="354.07" r="1.65"/>
<circle cx="252.07" cy="355.28" r="1.65"/>
<circle cx="251.08" cy="347.56" r="1.65"/>
<circle cx="252.76" cy="355.90" r="1.65"/>
<circle cx="260.85" cy="354.41" r="1.65"/>
<circle cx="250.93" cy="355.46" r="1.65"/>
<circle cx="262.59" cy="345.21" r="1.65"/>
<circle cx="275.87" cy="354.97" r="1.65"/>
<circle cx="288.03" cy="353.42" r="1.65"/>
<circle cx="289.32" cy="354.75" r="1.65"/>
<circle cx="270.71" cy="348.93" r="1.65"/>
<circle cx="288.63" cy="352.11" r="1.65"/>
<circle cx="305.92" cy="359.26" r="1.65"/>
<circle cx="312.40" cy="365.71" r="1.65"/>
<circle cx="315.53" cy="361.10" r="1.65"/>
<circle cx="318.58" cy="364.44" r="1.65"/>
<circle cx="326.35" cy="372.96" r="1.65"/>
<circle cx="318.78" cy="368.54" r="1.65"/>
<circle cx="314.59" cy="370.68" r="1.65"/>
<circle cx="131.42" cy="363.28" r="1.65"/>
<circle cx="122.56" cy="368.15" r="1.65"/>
<circle cx="116.69" cy="372.57" r="1.65"/>
<circle cx="146.62" cy="358.70" r="1.65"/>
<circle cx="136.34" cy="363.72" r="1.65"/>
<circle cx="164.35" cy="350.56" r="1.65"/>
<circle cx="157.13" cy="356.13" r="1.65"/>
<circle cx="156.36" cy="356.81" r="1.65"/>
<circle cx="114.73" cy="375.68" r="1.65"/>
<circle cx="141.43" cy="362.31" r="1.65"/>
<circle cx="144.20" cy="362.60" r="1.65"/>
<circle cx="114.66" cy="376.18" r="1.65"/>
<circle cx="137.30" cy="363.76" r="1.65"/>
<circle cx="129.47" cy="367.71" r="1.65"/>
<circle cx="123.47" cy="369.80" r="1.65"/>
<circle cx="154.24" cy="355.87" r="1.65"/>
<circle cx="134.31" cy="365.47" r="1.65"/>
<circle cx="117.47" cy="368.17" r="1.65"/>
<circle cx="131.56" cy="364.58" r="1.65"/>
<circle cx="160.49" cy="353.57" r="1.65"/>
<circle cx="132.65" cy="360.88" r="1.65"/>
<circle cx="121.93" cy="366.79" r="1.65"/>
<circle cx="115.54" cy="374.90" r="1.65"/>
<circle cx="139.15" cy="359.70" r="1.65"/>
<circle cx="147.38" cy="356.82" r="1.65"/>
<circle cx="133.88" cy="364.79" r="1.65"/>
<circle cx="156.96" cy="353.04" r="1.65"/>
<circle cx="139.80" cy="359.75" r="1.65"/>
<circle cx="154.26" cy="353.94" r="1.65"/>
<circle cx="141.95" cy="359.49" r="1.65"/>
<circle cx="143.31" cy="358.57" r="1.65"/>
<circle cx="133.86" cy="364.45" r="1.65"/>
<circle cx="117.82" cy="374.00" r="1.65"/>
<circle cx="149.34" cy="357.36" r="1.65"/>
<circle cx="157.49" cy="356.63" r="1.65"/>
<circle cx="150.43" cy="357.58" r="1.65"/>
<circle cx="134.24" cy="365.45" r="1.65"/>
<circle cx="192.66" cy="353.11" r="1.65"/>
<circle cx="195.83" cy="347.91" r="1.65"/>
<circle cx="198.34" cy="355.73" r="1.65"/>
<circle cx="202.86" cy="353.75" r="1.65"/>
<circle cx="177.83" cy="346.71" r="1.65"/>
<circle cx="191.74" cy="353.23" r="1.65"/>
<circle cx="177.67" cy="349.38" r="1.65"/>
<circle cx="176.92" cy="351.93" r="1.65"/>
<circle cx="196.71" cy="352.62" r="1.65"/>
<circle cx="194.98" cy="354.54" r="1.65"/>
<circle cx="283.85" cy="352.47" r="1.65"/>
<circle cx="247.54" cy="355.24" r="1.65"/>
<circle cx="282.40" cy="356.93" r="1.65"/>
<circle cx="273.09" cy="351.71" r="1.65"/>
<circle cx="257.79" cy="352.80" r="1.65"/>
<circle cx="287.44" cy="353.58" r="1.65"/>
<circle cx="241.42" cy="355.79" r="1.65"/>
<circle cx="252.88" cy="352.35" r="1.65"/>
<circle cx="267.51" cy="351.55" r="1.65"/>
<circle cx="261.81" cy="349.56" r="1.65"/>
<circle cx="260.93" cy="350.90" r="1.65"/>
<circle cx="295.84" cy="354.74" r="1.65"/>
<circle cx="270.29" cy="349.54" r="1.65"/>
<circle cx="276.69" cy="351.17" r="1.65"/>
<circle cx="264.98" cy="353.56" r="1.65"/>
<circle cx="250.32" cy="352.98" r="1.65"/>
<circle cx="244.93" cy="351.93" r="1.65"/>
<circle cx="298.05" cy="355.63" r="1.65"/>
<circle cx="302.19" cy="361.65" r="1.65"/>
<circle cx="321.25" cy="369.51" r="1.65"/>
<circle cx="301.70" cy="361.43" r="1.65"/>
<circle cx="312.56" cy="366.56" r="1.65"/>
<circle cx="319.18" cy="366.99" r="1.65"/>
<circle cx="302.85" cy="359.92" r="1.65"/>
<circle cx="313.58" cy="364.64" r="1.65"/>
<circle cx="311.04" cy="364.58" r="1.65"/>
<circle cx="301.89" cy="362.35" r="1.65"/>
<circle cx="323.09" cy="369.98" r="1.65"/>
<circle cx="300.00" cy="357.24" r="1.65"/>
<circle cx="324.33" cy="375.06" r="1.65"/>
<circle cx="97.80" cy="553.70" r="1.65"/>
<circle cx="98.10" cy="546.50" r="1.65"/>
<circle cx="99.20" cy="540.40" r="1.65"/>
<circle cx="99.90" cy="524.60" r="1.65"/>
<circle cx="100.90" cy="510.70" r="1.65"/>
<circle cx="105.90" cy="427.40" r="1.65"/>
<circle cx="106.70" cy="414.20" r="1.65"/>
<circle cx="107.20" cy="400.70" r="1.65"/>
<circle cx="108.20" cy="390.30" r="1.65"/>
<circle cx="109.00" cy="381.90" r="1.65"/>
<circle cx="109.50" cy="373.20" r="1.65"/>
<circle cx="205.50" cy="353.00" r="1.65"/>
<circle cx="204.70" cy="358.90" r="1.65"/>
<circle cx="208.50" cy="360.10" r="1.65"/>
<circle cx="209.20" cy="369.00" r="1.65"/>
<circle cx="210.00" cy="375.00" r="1.65"/>
<circle cx="210.70" cy="386.90" r="1.65"/>
<circle cx="212.20" cy="390.20" r="1.65"/>
<circle cx="212.50" cy="401.30" r="1.65"/>
<circle cx="213.20" cy="406.30" r="1.65"/>
<circle cx="213.70" cy="420.70" r="1.65"/>
<circle cx="214.70" cy="434.10" r="1.65"/>
<circle cx="215.20" cy="434.00" r="1.65"/>
<circle cx="216.00" cy="454.00" r="1.65"/>
<circle cx="216.50" cy="465.80" r="1.65"/>
<circle cx="217.10" cy="474.50" r="1.65"/>
<circle cx="218.30" cy="482.00" r="1.65"/>
<circle cx="219.40" cy="487.20" r="1.65"/>
<circle cx="220.60" cy="490.60" r="1.65"/>
<circle cx="221.70" cy="478.50" r="1.65"/>
<circle cx="223.50" cy="484.80" r="1.65"/>
<circle cx="224.10" cy="474.50" r="1.65"/>
<circle cx="224.90" cy="466.70" r="1.65"/>
<circle cx="225.80" cy="458.30" r="1.65"/>
<circle cx="226.90" cy="450.80" r="1.65"/>
<circle cx="227.90" cy="439.80" r="1.65"/>
<circle cx="228.60" cy="431.80" r="1.65"/>
<circle cx="229.30" cy="421.70" r="1.65"/>
<circle cx="230.00" cy="411.00" r="1.65"/>
<circle cx="230.80" cy="397.30" r="1.65"/>
<circle cx="231.50" cy="390.20" r="1.65"/>
<circle cx="232.70" cy="381.30" r="1.65"/>
<circle cx="233.80" cy="371.60" r="1.65"/>
<circle cx="234.50" cy="364.10" r="1.65"/>
<circle cx="236.70" cy="356.70" r="1.65"/>
<circle cx="333.93" cy="382.40" r="1.65"/>
<circle cx="336.73" cy="405.10" r="1.65"/>
<circle cx="339.23" cy="445.80" r="1.65"/>
<circle cx="340.73" cy="479.30" r="1.65"/>
<circle cx="341.63" cy="497.30" r="1.65"/>
<circle cx="342.63" cy="507.70" r="1.65"/>
<circle cx="343.53" cy="522.50" r="1.65"/>
<circle cx="344.13" cy="530.60" r="1.65"/>
<circle cx="344.73" cy="542.20" r="1.65"/>
<circle cx="346.63" cy="550.90" r="1.65"/>
<circle cx="345.63" cy="556.00" r="1.65"/>
<circle cx="346.53" cy="551.40" r="1.65"/>
<circle cx="347.33" cy="558.30" r="1.65"/>
<circle cx="49.07" cy="359.60" r="1.65"/>
<circle cx="52.07" cy="355.70" r="1.65"/>
<circle cx="53.27" cy="358.30" r="1.65"/>
<circle cx="52.87" cy="363.90" r="1.65"/>
<circle cx="56.27" cy="361.30" r="1.65"/>
<circle cx="58.87" cy="359.60" r="1.65"/>
<circle cx="57.57" cy="364.70" r="1.65"/>
<circle cx="61.07" cy="364.70" r="1.65"/>
<circle cx="61.87" cy="367.70" r="1.65"/>
<circle cx="64.77" cy="359.70" r="1.65"/>
<circle cx="63.07" cy="361.00" r="1.65"/>
<circle cx="65.57" cy="363.10" r="1.65"/>
<circle cx="63.87" cy="367.90" r="1.65"/>
<circle cx="65.57" cy="370.90" r="1.65"/>
<circle cx="68.17" cy="364.90" r="1.65"/>
<circle cx="70.77" cy="363.60" r="1.65"/>
<circle cx="72.47" cy="365.30" r="1.65"/>
<circle cx="70.77" cy="370.40" r="1.65"/>
<circle cx="75.07" cy="365.70" r="1.65"/>
<circle cx="76.77" cy="367.00" r="1.65"/>
<circle cx="80.17" cy="366.10" r="1.65"/>
<circle cx="80.57" cy="369.10" r="1.65"/>
<circle cx="81.87" cy="371.30" r="1.65"/>
<circle cx="76.27" cy="374.30" r="1.65"/>
<circle cx="77.17" cy="376.90" r="1.65"/>
<circle cx="75.07" cy="371.70" r="1.65"/>
<circle cx="67.77" cy="368.30" r="1.65"/>
<circle cx="64.47" cy="360.00" r="1.65"/>
<circle cx="64.87" cy="362.60" r="1.65"/>
<circle cx="63.97" cy="369.40" r="1.65"/>
<circle cx="54.08" cy="359.26" r="1.65"/>
<circle cx="60.57" cy="365.71" r="1.65"/>
<circle cx="63.70" cy="361.10" r="1.65"/>
<circle cx="66.75" cy="364.44" r="1.65"/>
<circle cx="74.52" cy="372.96" r="1.65"/>
<circle cx="66.95" cy="368.54" r="1.65"/>
<circle cx="62.76" cy="370.68" r="1.65"/>
<circle cx="46.22" cy="355.63" r="1.65"/>
<circle cx="50.36" cy="361.65" r="1.65"/>
<circle cx="69.42" cy="369.51" r="1.65"/>
<circle cx="49.86" cy="361.43" r="1.65"/>
<circle cx="60.73" cy="366.56" r="1.65"/>
<circle cx="67.35" cy="366.99" r="1.65"/>
<circle cx="51.02" cy="359.92" r="1.65"/>
<circle cx="61.75" cy="364.64" r="1.65"/>
<circle cx="59.21" cy="364.58" r="1.65"/>
<circle cx="50.06" cy="362.35" r="1.65"/>
<circle cx="71.26" cy="369.98" r="1.65"/>
<circle cx="48.16" cy="357.24" r="1.65"/>
<circle cx="72.49" cy="375.06" r="1.65"/>
<circle cx="82.10" cy="382.40" r="1.65"/>
<circle cx="84.90" cy="405.10" r="1.65"/>
<circle cx="87.40" cy="445.80" r="1.65"/>
<circle cx="88.90" cy="479.30" r="1.65"/>
<circle cx="89.80" cy="497.30" r="1.65"/>
<circle cx="90.80" cy="507.70" r="1.65"/>
<circle cx="91.70" cy="522.50" r="1.65"/>
<circle cx="92.30" cy="530.60" r="1.65"/>
<circle cx="92.90" cy="542.20" r="1.65"/>
<circle cx="94.80" cy="550.90" r="1.65"/>
<circle cx="93.80" cy="556.00" r="1.65"/>
<circle cx="94.70" cy="551.40" r="1.65"/>
<circle cx="95.50" cy="558.30" r="1.65"/>
</g>
<g clip-path="url(#c2)">
<polyline points="45.47,357.20 80.97,374.80 83.37,396.29 84.37,408.02 85.67,427.55 87.07,451.00 89.07,486.17 90.47,505.71 91.77,525.25 93.27,539.90 94.67,554.56 95.87,557.00 95.87,557.00 97.07,554.55 98.47,539.86 99.97,525.16 101.27,505.57 102.67,485.98 104.67,450.71 106.07,427.20 107.37,407.61 108.37,395.85 110.10,374.30 126.00,368.00 135.00,363.80 150.00,356.50 160.00,352.40 167.00,350.60 180.00,349.30 195.00,350.70 206.90,352.80 208.38,363.47 210.38,382.04 212.18,400.60 213.78,419.17 215.88,447.01 218.58,470.22 220.58,480.43 221.78,486.00 222.98,480.41 224.98,470.16 227.68,446.87 229.78,418.92 231.38,400.28 233.18,381.65 235.18,363.01 236.70,352.30 255.00,350.80 271.30,350.30 285.00,352.00 297.30,357.20 332.80,374.80 335.20,396.29 336.20,408.02 337.50,427.55 338.90,451.00 340.90,486.17 342.30,505.71 343.60,525.25 345.10,539.90 346.50,554.56 347.70,557.00 347.70,557.00" fill="none" stroke="#ff0000" stroke-opacity="0.85" stroke-width="1.1" stroke-linejoin="round"/>
<polyline points="45.47,355.80 80.97,373.30 83.87,395.09 84.87,406.97 86.17,426.78 87.57,450.55 89.57,486.20 90.97,506.01 92.27,525.81 93.77,540.67 95.17,555.52 95.87,558.00 95.87,558.00 96.57,555.52 97.97,540.66 99.47,525.80 100.77,505.98 102.17,486.16 104.17,450.49 105.57,426.71 106.87,406.89 107.87,395.00 110.10,373.20 126.00,366.30 135.00,362.30 150.00,355.20 160.00,352.20 168.00,351.60 175.00,353.60 206.40,365.00 209.78,383.14 211.58,402.40 213.18,421.66 215.28,450.55 217.98,474.63 219.98,485.22 221.78,491.00 223.58,485.20 225.58,474.57 228.28,450.40 230.38,421.41 231.98,402.08 233.78,382.75 236.70,365.40 262.00,356.40 275.00,353.00 285.00,352.60 297.30,355.80 332.80,373.30 335.70,395.09 336.70,406.97 338.00,426.78 339.40,450.55 341.40,486.20 342.80,506.01 344.10,525.81 345.60,540.67 347.00,555.52 347.70,558.00 347.70,558.00" fill="none" stroke="#22ee22" stroke-opacity="0.9" stroke-width="1.15" stroke-linejoin="round"/>
<polyline points="45.47,356.60 80.97,374.20 83.57,395.76 84.57,407.53 85.87,427.13 87.27,450.65 89.27,485.94 90.67,505.54 91.97,525.14 93.47,539.85 94.87,554.55 95.87,557.00 95.87,557.00 96.87,554.54 98.27,539.81 99.77,525.08 101.07,505.43 102.47,485.78 104.47,450.42 105.87,426.84 107.17,407.20 108.17,395.41 110.10,373.80 126.00,367.20 135.00,363.10 150.00,355.90 160.00,352.30 167.00,350.80 180.00,350.00 195.00,352.00 206.40,354.00 208.08,363.55 210.08,382.26 211.88,400.96 213.48,419.67 215.58,447.72 218.28,471.10 220.28,481.39 221.78,487.00 223.28,481.37 225.28,471.04 227.98,447.58 230.08,419.42 231.68,400.64 233.48,381.87 235.48,363.09 236.70,354.80 250.00,353.20 262.00,352.20 271.30,351.00 285.00,352.20 297.30,356.60 332.80,374.20 335.40,395.76 336.40,407.53 337.70,427.13 339.10,450.65 341.10,485.94 342.50,505.54 343.80,525.14 345.30,539.85 346.70,554.55 347.70,557.00 347.70,557.00" fill="none" stroke="#000000" stroke-opacity="0.6" stroke-width="0.75" stroke-linejoin="round"/>
</g>
<rect x="45.5" y="336.5" width="302.2" height="239.0" fill="none" stroke="#767676" stroke-width="1"/>
<path d="M45.50 575.5v-3M45.50 336.5v3M45.5 336.50h3M347.7 336.50h-3M95.87 575.5v-3M95.87 336.5v3M45.5 376.33h3M347.7 376.33h-3M146.23 575.5v-3M146.23 336.5v3M45.5 416.17h3M347.7 416.17h-3M196.60 575.5v-3M196.60 336.5v3M45.5 456.00h3M347.7 456.00h-3M246.97 575.5v-3M246.97 336.5v3M45.5 495.83h3M347.7 495.83h-3M297.33 575.5v-3M297.33 336.5v3M45.5 535.67h3M347.7 535.67h-3M347.70 575.5v-3M347.70 336.5v3M45.5 575.50h3M347.7 575.50h-3" stroke="#767676" stroke-width="1" fill="none"/>
<text x="45.50" y="590.70" text-anchor="middle" font-size="10.3" fill="#262626" stroke="#262626" stroke-width="0.12">-0.2</text>
<text x="95.87" y="590.70" text-anchor="middle" font-size="10.3" fill="#262626" stroke="#262626" stroke-width="0.12">0</text>
<text x="146.23" y="590.70" text-anchor="middle" font-size="10.3" fill="#262626" stroke="#262626" stroke-width="0.12">0.2</text>
<text x="196.60" y="590.70" text-anchor="middle" font-size="10.3" fill="#262626" stroke="#262626" stroke-width="0.12">0.4</text>
<text x="246.97" y="590.70" text-anchor="middle" font-size="10.3" fill="#262626" stroke="#262626" stroke-width="0.12">0.6</text>
<text x="297.33" y="590.70" text-anchor="middle" font-size="10.3" fill="#262626" stroke="#262626" stroke-width="0.12">0.8</text>
<text x="347.70" y="590.70" text-anchor="middle" font-size="10.3" fill="#262626" stroke="#262626" stroke-width="0.12">1</text>
<text x="41" y="340.70" text-anchor="end" font-size="10.3" fill="#262626" stroke="#262626" stroke-width="0.12">12.35</text>
<text x="41" y="380.53" text-anchor="end" font-size="10.3" fill="#262626" stroke="#262626" stroke-width="0.12">12.4</text>
<text x="41" y="420.37" text-anchor="end" font-size="10.3" fill="#262626" stroke="#262626" stroke-width="0.12">12.45</text>
<text x="41" y="460.20" text-anchor="end" font-size="10.3" fill="#262626" stroke="#262626" stroke-width="0.12">12.5</text>
<text x="41" y="500.03" text-anchor="end" font-size="10.3" fill="#262626" stroke="#262626" stroke-width="0.12">12.55</text>
<text x="41" y="539.87" text-anchor="end" font-size="10.3" fill="#262626" stroke="#262626" stroke-width="0.12">12.6</text>
<text x="41" y="579.70" text-anchor="end" font-size="10.3" fill="#262626" stroke="#262626" stroke-width="0.12">12.65</text>
<text x="196.60" y="605.50" text-anchor="middle" font-size="11.5" fill="#262626" stroke="#262626" stroke-width="0.12">Phase</text>
<text transform="translate(8.8 456.00) rotate(-90)" text-anchor="middle" font-size="11.5" fill="#262626" stroke="#262626" stroke-width="0.12">V magnitude</text>
<rect x="150.8" y="504.0" width="91.6" height="62.6" fill="#fff" stroke="#767676" stroke-width="1"/>
<circle cx="169.3" cy="512.30" r="3" fill="none" stroke="#0000ff" stroke-width="1.1"/>
<text x="187.1" y="516.30" font-size="9.4" fill="#000" stroke="#000" stroke-width="0.1">observed</text>
<line x1="153.9" x2="184.4" y1="527.00" y2="527.00" stroke="#ff6e6e" stroke-width="1.2"/>
<text x="187.1" y="528.20" font-size="9.4" fill="#000" stroke="#000" stroke-width="0.1">A</text>
<text x="194.2" y="533.00" font-size="6.8" fill="#000">2</text>
<text x="201.9" y="528.50" font-size="8.4" fill="#000" stroke="#000" stroke-width="0.25">=</text>
<text x="210.2" y="528.20" font-size="9.4" fill="#000" stroke="#000" stroke-width="0.1">1.89</text>
<line x1="153.9" x2="184.4" y1="544.50" y2="544.50" stroke="#66ff66" stroke-width="1.2"/>
<text x="187.1" y="546.10" font-size="9.4" fill="#000" stroke="#000" stroke-width="0.1">A</text>
<text x="194.2" y="550.90" font-size="6.8" fill="#000">2</text>
<text x="201.9" y="546.40" font-size="8.4" fill="#000" stroke="#000" stroke-width="0.25">=</text>
<text x="210.2" y="546.10" font-size="9.4" fill="#000" stroke="#000" stroke-width="0.1">1</text>
<line x1="153.9" x2="184.4" y1="559.50" y2="559.50" stroke="#4a4a4a" stroke-width="1.2"/>
<text x="187.1" y="562.90" font-size="9.4" fill="#000" stroke="#000" stroke-width="0.1">with hot spot</text>
</svg>
</body></html>
